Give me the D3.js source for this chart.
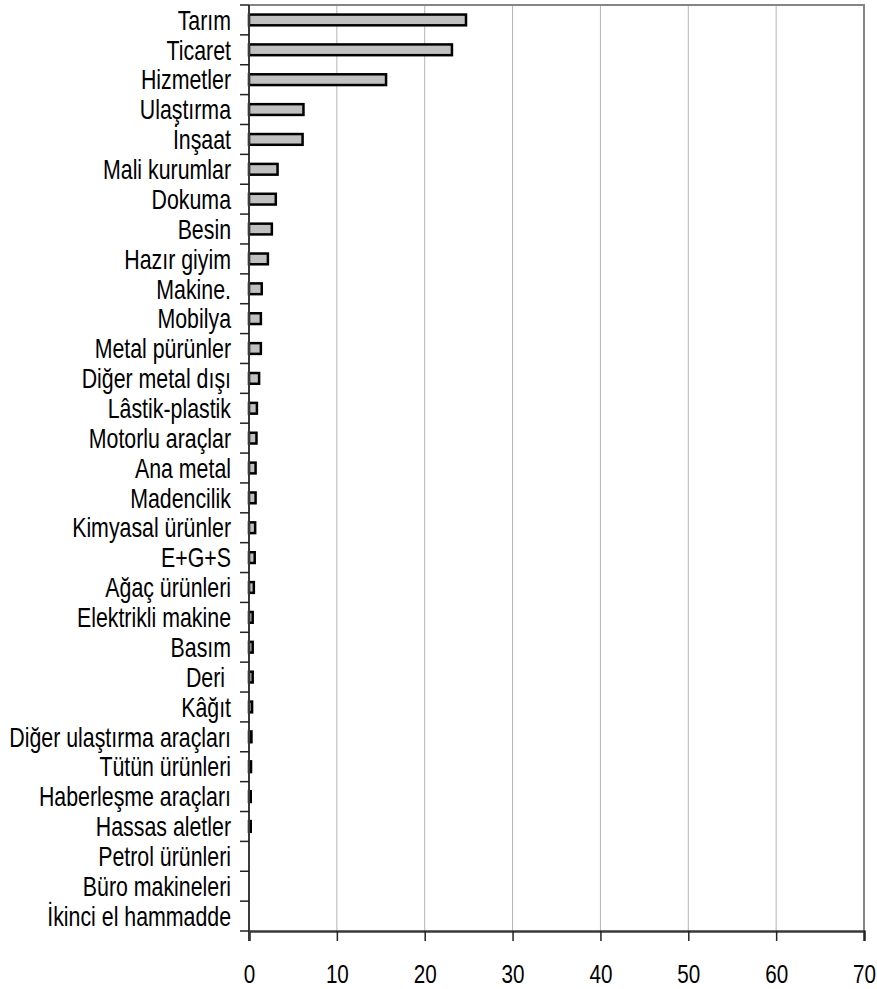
<!DOCTYPE html>
<html>
<head>
<meta charset="utf-8">
<script src="https://cdn.jsdelivr.net/npm/d3@7"></script>
<style>
  body { margin: 0; background: #ffffff; }
  text { font-family: "Liberation Sans", Arial, sans-serif; }
</style>
</head>
<body>
<div id="chart"></div>
<script>
// sectors, top to bottom
var sectors = ['Tarım', 'Ticaret', 'Hizmetler', 'Ulaştırma', 'İnşaat', 'Mali kurumlar',
    'Dokuma', 'Besin', 'Hazır giyim', 'Makine.', 'Mobilya', 'Metal pürünler',
    'Diğer metal dışı', 'Lâstik-plastik', 'Motorlu araçlar', 'Ana metal', 'Madencilik',
    'Kimyasal ürünler', 'E+G+S', 'Ağaç ürünleri', 'Elektrikli makine', 'Basım', 'Deri ',
    'Kâğıt', 'Diğer ulaştırma araçları', 'Tütün ürünleri', 'Haberleşme araçları',
    'Hassas aletler', 'Petrol ürünleri', 'Büro makineleri', 'İkinci el hammadde'];

// share of each sector
var shares = [24.7, 23.1, 15.6, 6.2, 6.1, 3.25,
    3.05, 2.6, 2.15, 1.45, 1.35, 1.35,
    1.15, 0.9, 0.85, 0.75, 0.75,
    0.7, 0.65, 0.55, 0.42, 0.42, 0.42,
    0.35, 0.28, 0.23, 0.2,
    0.2, 0, 0, 0];

var xTicks = [0, 10, 20, 30, 40, 50, 60, 70];

var width = 877, height = 989;
var plot = { left: 249, right: 864, top: 5, bottom: 931 };

var svg = d3.select('#chart').append('svg')
    .attr('width', width)
    .attr('height', height);

// scales
var x = d3.scaleLinear().domain([0, 70]).range([plot.left, plot.right]);
var rows = d3.scaleBand().domain(sectors).range([plot.top, plot.bottom]).padding(0);
var bars = d3.scaleBand().domain(sectors).range([plot.top, plot.bottom])
    .paddingInner(0.64).paddingOuter(0.32);

// vertical gridlines
svg.append('g').selectAll('line')
    .data(xTicks.slice(1, -1))
    .join('line')
    .attr('x1', function(d) { return x(d); })
    .attr('x2', function(d) { return x(d); })
    .attr('y1', plot.top)
    .attr('y2', plot.bottom)
    .style('stroke', '#b4b4b4')
    .style('stroke-width', 1);

// top and right border of the plot area
svg.append('path')
    .attr('d', 'M' + plot.left + ',' + plot.top + 'H' + plot.right + 'V' + plot.bottom)
    .style('fill', 'none')
    .style('stroke', '#858585')
    .style('stroke-width', 2);

// bars
svg.append('g').selectAll('rect')
    .data(sectors)
    .join('rect')
    .attr('x', x(0))
    .attr('y', function(d) { return bars(d); })
    .attr('width', function(d, i) { return x(shares[i]) - x(0); })
    .attr('height', bars.bandwidth())
    .style('fill', '#c0c0c0')
    .style('stroke', '#000000')
    .style('stroke-width', function(d, i) { return shares[i] > 0 ? 2.5 : 0; });

// x axis (labels squeezed, the original uses a condensed face)
var xAxis = d3.axisBottom(x).tickValues(xTicks).tickSize(10).tickPadding(24)
    .tickFormat(d3.format('d'));
var gx = svg.append('g')
    .attr('transform', 'translate(0,' + plot.bottom + ')')
    .call(xAxis);
gx.select('.domain').style('stroke', '#3a3a3a').style('stroke-width', 2.5);
gx.selectAll('.tick line').style('stroke', '#222').style('stroke-width', 1.5);
gx.selectAll('.tick text')
    .attr('transform', 'scale(0.81,1)')
    .style('font-size', '25.5px')
    .style('fill', '#000');

// y axis: ticks on row boundaries
var gy = svg.append('g');
gy.append('line')
    .attr('x1', plot.left).attr('x2', plot.left)
    .attr('y1', plot.top).attr('y2', plot.bottom + 10)
    .style('stroke', '#3a3a3a')
    .style('stroke-width', 2);
gy.selectAll('line.tick')
    .data(sectors.concat(['__end']))
    .join('line')
    .attr('class', 'tick')
    .attr('x1', plot.left - 9).attr('x2', plot.left)
    .attr('y1', function(d) { return d === '__end' ? plot.bottom : rows(d); })
    .attr('y2', function(d) { return d === '__end' ? plot.bottom : rows(d); })
    .style('stroke', '#222')
    .style('stroke-width', 1.5);

// category labels
gy.selectAll('text')
    .data(sectors)
    .join('text')
    .attr('transform', function(d) {
        return 'translate(' + (plot.left - 18) + ',' + (rows(d) + rows.bandwidth() / 2) + ')'
            + ' scale(0.79,1)';
    })
    .attr('dy', '0.36em')
    .attr('text-anchor', 'end')
    .style('font-size', '27px')
    .style('white-space', 'pre')
    .text(function(d) { return d; });
</script>
</body>
</html>
